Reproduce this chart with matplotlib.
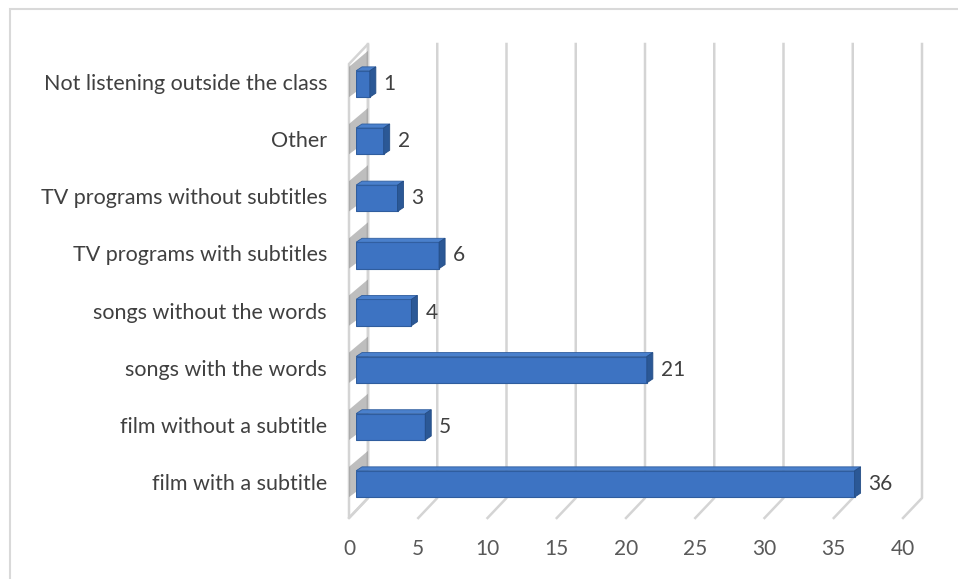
import matplotlib.pyplot as plt
from matplotlib.patches import Rectangle, Polygon
from matplotlib.transforms import IdentityTransform

categories = ["film with a subtitle", "film without a subtitle", "songs with the words",
              "songs without the words", "TV programs with subtitles",
              "TV programs without subtitles", "Other", "Not listening outside the class"]
values = [36, 5, 21, 4, 6, 3, 2, 1]
xticks = [0, 5, 10, 15, 20, 25, 30, 35, 40]

W, H = 958, 579
fig = plt.figure(figsize=(W / 100, H / 100), dpi=100)
plt.rcParams["font.family"] = ["Lato", "DejaVu Sans"]

# axes box in pixels (front/mid plane)
left, right, top, bottom = 356, 910, 64, 518
ax = fig.add_axes([left / W, (H - bottom) / H, (right - left) / W, (bottom - top) / H])
ax.set_xlim(0, 40)
ax.set_ylim(-0.595, 7.35)
ax.axis("off")

# outer border
fig.patches.append(Rectangle((10 / W, -0.1), 1.2, 1.1 - 9 / H, transform=fig.transFigure,
                             fill=False, edgecolor="#d9d9d9", lw=1.5))

ident = IdentityTransform()
back_dx, back_dy = 12, 20
front_dx = -7
grid_col = "#d4d4d4"


def X(v):
    return ax.transData.transform((v, 0))[0]


def Y(v):
    return ax.transData.transform((0, v))[1]


ybot = ax.transAxes.transform((0, 0))[1]
ytop = ax.transAxes.transform((0, 1))[1]

# left wall
x0 = X(0)
ax.add_patch(Polygon([(x0 + front_dx, ybot), (x0 + front_dx, ytop),
                      (x0 + back_dx, ytop + back_dy), (x0 + back_dx, ybot + back_dy)],
                     closed=True, facecolor="white", edgecolor=grid_col, lw=1.8,
                     transform=ident, clip_on=False, zorder=1))

# gridlines with diagonal floor ticks
for v in xticks:
    xv = X(v)
    ax.plot([xv + back_dx, xv + back_dx, xv + front_dx],
            [ytop + back_dy, ybot + back_dy, ybot],
            color=grid_col, lw=1.8, transform=ident, clip_on=False, zorder=1)
    ax.text(xv + front_dx, ybot - 31, str(v), transform=ident, ha="center", va="center",
            fontsize=15, color="#595959")

# bars
h = 0.46
bar_col = "#3d73c2"
for i, (cat, val) in enumerate(zip(categories, values)):
    yb, yt = Y(i - h / 2), Y(i + h / 2)
    # shadow on the wall
    ax.add_patch(Polygon([(x0 + front_dx, yb), (x0 + front_dx, yt + 4),
                          (x0 + back_dx, yt + back_dy), (x0 + back_dx, yb + back_dy - 6)],
                         closed=True, facecolor="#8a8a8a", alpha=0.55, lw=0,
                         transform=ident, clip_on=False, zorder=2))
    ax.barh(i, val, height=h, color=bar_col, edgecolor="#2f5d9e", lw=0.8, zorder=4)
    x1 = X(val)
    ax.add_patch(Polygon([(x0, yt), (x1, yt), (x1 + 6, yt + 4), (x0 + 6, yt + 4)],
                         closed=True, facecolor="#4a80cc", edgecolor="#2f5d9e", lw=0.6,
                         transform=ident, zorder=5))
    ax.add_patch(Polygon([(x1, yb), (x1, yt), (x1 + 6, yt + 4), (x1 + 6, yb + 4)],
                         closed=True, facecolor="#2b5896", edgecolor="#244d86", lw=0.6,
                         transform=ident, zorder=5))
    ax.annotate(str(val), (val, i), xytext=(10, 0), textcoords="offset points",
                ha="left", va="center", fontsize=15, color="#404040", zorder=6)
    ax.text(x0 - 29, Y(i), cat, transform=ident, ha="right", va="center",
            fontsize=15.5, color="#404040")

fig.savefig("out.png", dpi=100)
